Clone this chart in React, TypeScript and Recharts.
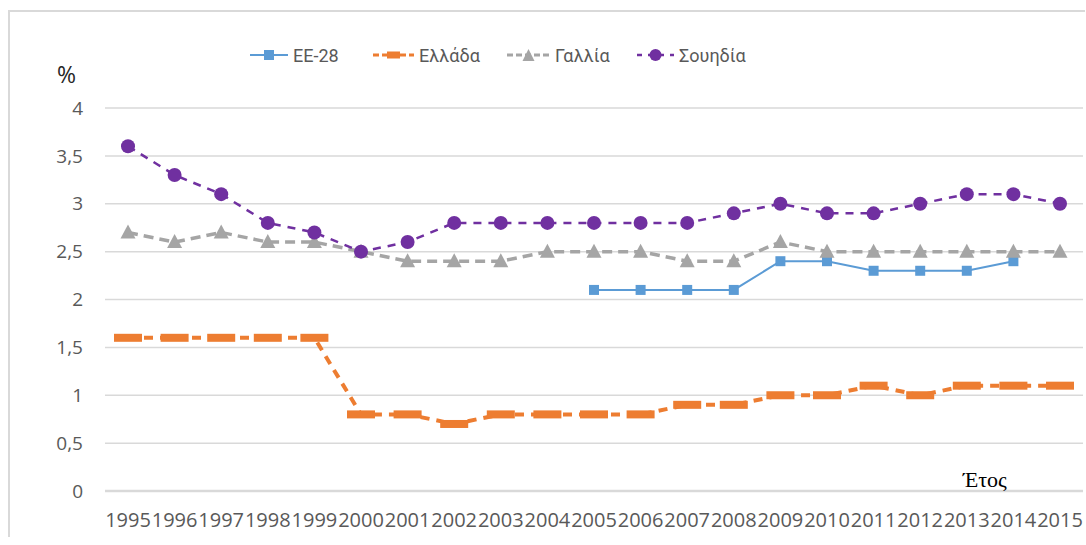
import { LineChart, Line, XAxis, YAxis, CartesianGrid, Legend } from 'recharts'

const years = ['1995', '1996', '1997', '1998', '1999', '2000', '2001', '2002', '2003', '2004', '2005',
  '2006', '2007', '2008', '2009', '2010', '2011', '2012', '2013', '2014', '2015']

const eu28 = [null, null, null, null, null, null, null, null, null, null, 2.1,
  2.1, 2.1, 2.1, 2.4, 2.4, 2.3, 2.3, 2.3, 2.4, null]
const greece = [1.6, 1.6, 1.6, 1.6, 1.6, 0.8, 0.8, 0.7, 0.8, 0.8, 0.8,
  0.8, 0.9, 0.9, 1.0, 1.0, 1.1, 1.0, 1.1, 1.1, 1.1]
const france = [2.7, 2.6, 2.7, 2.6, 2.6, 2.5, 2.4, 2.4, 2.4, 2.5, 2.5,
  2.5, 2.4, 2.4, 2.6, 2.5, 2.5, 2.5, 2.5, 2.5, 2.5]
const sweden = [3.6, 3.3, 3.1, 2.8, 2.7, 2.5, 2.6, 2.8, 2.8, 2.8, 2.8,
  2.8, 2.8, 2.9, 3.0, 2.9, 2.9, 3.0, 3.1, 3.1, 3.0]

const seriesNames = ['ΕΕ-28', 'Ελλάδα', 'Γαλλία', 'Σουηδία']
const seriesKeys = ['eu28', 'greece', 'france', 'sweden']

const yTicks = [0, 0.5, 1, 1.5, 2, 2.5, 3, 3.5, 4]

const data = years.map((year, i) => ({
  year,
  eu28: eu28[i],
  greece: greece[i],
  france: france[i],
  sweden: sweden[i],
}))

const BLUE = '#5B9BD5'
const ORANGE = '#ED7D31'
const GRAY = '#A5A5A5'
const PURPLE = '#7030A0'
const TEXT = '#595959'
const GRID = '#D9D9D9'
const FONT = '"Open Sans", sans-serif'
const LEGEND_FONT = 'Roboto, "Open Sans", sans-serif'

const empty = (p: any) => <g key={`e-${p.index}`} />

const squareDot = (p: any) => p.cy == null ? empty(p) :
  <rect key={`s-${p.index}`} x={p.cx - 5} y={p.cy - 5} width={10} height={10} fill={BLUE} />

const dashDot = (p: any) => p.cy == null ? empty(p) :
  <rect key={`r-${p.index}`} x={p.cx - 14} y={p.cy - 4} width={28} height={8} fill={ORANGE} />

const triDot = (p: any) => p.cy == null ? empty(p) :
  <polygon key={`t-${p.index}`} fill={GRAY}
    points={`${p.cx},${p.cy - 8} ${p.cx + 7.5},${p.cy + 6} ${p.cx - 7.5},${p.cy + 6}`} />

const circleDot = (p: any) => p.cy == null ? empty(p) :
  <circle key={`c-${p.index}`} cx={p.cx} cy={p.cy} r={7} fill={PURPLE} />

const icon = (key: string) => {
  switch (key) {
    case 'eu28':
      return <svg width={38} height={16}>
        <line x1={0} y1={8} x2={38} y2={8} stroke={BLUE} strokeWidth={2} />
        <rect x={14} y={3} width={10} height={10} fill={BLUE} />
      </svg>
    case 'greece':
      return <svg width={41} height={16}>
        <line x1={0} y1={8} x2={41} y2={8} stroke={ORANGE} strokeWidth={3} strokeDasharray="6 3" />
        <rect x={14} y={4.5} width={13} height={7} fill={ORANGE} />
      </svg>
    case 'france':
      return <svg width={43} height={16}>
        <line x1={0} y1={8} x2={43} y2={8} stroke={GRAY} strokeWidth={3} strokeDasharray="6 3" />
        <polygon points="21.5,2 27.5,14 15.5,14" fill={GRAY} />
      </svg>
    default:
      return <svg width={37} height={16}>
        <line x1={0} y1={8} x2={37} y2={8} stroke={PURPLE} strokeWidth={2.5} strokeDasharray="5 6" />
        <circle cx={18.5} cy={8} r={6} fill={PURPLE} />
      </svg>
  }
}

// left edge of each legend entry, measured from the legend box
const legendLeft = [0, 123, 257, 387]

const LegendBox = () => <div style={{ position: 'relative', width: 520, height: 26 }}>
  {seriesKeys.map((key, i) => <div key={key}
    style={{ position: 'absolute', left: legendLeft[i], top: 0, display: 'flex', alignItems: 'center', height: 26 }}>
    {icon(key)}
    <span style={{ marginLeft: 5, fontFamily: LEGEND_FONT, fontSize: 18, color: TEXT, whiteSpace: 'nowrap' }}>
      {seriesNames[i]}
    </span>
  </div>)}
</div>

const percentLabel = ({ viewBox }: any) =>
  <text x={viewBox.x + 12} y={viewBox.y - 25} fontFamily={FONT} fontSize={23} fill="#262626">%</text>

const yearLabel = ({ viewBox }: any) =>
  <text x={viewBox.x + 858} y={viewBox.y - 4} fontFamily='"Liberation Serif", serif' fontSize={22} fill="#000">Έτος</text>

const margin = { top: 100, right: 15, bottom: 16, left: 37 }

export default function App() {
  return <div style={{ position: 'absolute', left: 8, top: 8, width: 1077, height: 529, overflow: 'hidden' }}>
    <div style={{ position: 'absolute', left: 0, top: 2, width: 1200, height: 1000, border: `2px solid ${GRID}` }} />
    <div style={{ position: 'absolute', left: 0, top: 0 }}>
      <LineChart width={1090} height={529} data={data} margin={margin}>
        <CartesianGrid vertical={false} stroke={GRID} strokeWidth={1.5} />
        <XAxis dataKey="year" interval={0} tickLine={false} tickSize={0} tickMargin={22} height={30}
          padding={{ left: 23, right: 23 }} axisLine={{ stroke: GRID, strokeWidth: 2.5 }}
          tick={{ fontFamily: FONT, fontSize: 20, fill: TEXT }} label={{ content: yearLabel }} />
        <YAxis domain={[0, 4]} ticks={yTicks} width={60} axisLine={false} tickLine={false}
          tickSize={0} tickMargin={22} tick={{ fontFamily: FONT, fontSize: 19, fill: TEXT }}
          tickFormatter={(v: number) => String(v).replace('.', ',')} label={{ content: percentLabel }} />
        <Legend layout="vertical" align="center" verticalAlign="middle" content={<LegendBox />}
          wrapperStyle={{ top: 34, left: 242, width: 'auto' }} />
        <Line name={seriesNames[0]} dataKey="eu28" stroke={BLUE} strokeWidth={2} dot={squareDot}
          activeDot={false} isAnimationActive={false} />
        <Line name={seriesNames[1]} dataKey="greece" stroke={ORANGE} strokeWidth={4} strokeDasharray="9 7"
          dot={dashDot} activeDot={false} isAnimationActive={false} />
        <Line name={seriesNames[2]} dataKey="france" stroke={GRAY} strokeWidth={3.5} strokeDasharray="10 6"
          dot={triDot} activeDot={false} isAnimationActive={false} />
        <Line name={seriesNames[3]} dataKey="sweden" stroke={PURPLE} strokeWidth={2.5} strokeDasharray="8 7"
          dot={circleDot} activeDot={false} isAnimationActive={false} />
      </LineChart>
    </div>
  </div>
}
